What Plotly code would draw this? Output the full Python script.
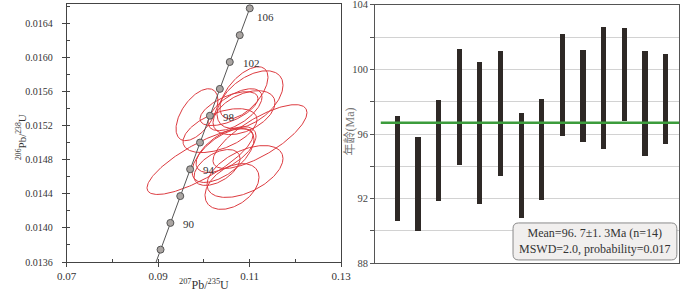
import plotly.graph_objects as go
import numpy as np

# ---------------- Data ----------------
# Concordia reference points (age in Ma, 207Pb/235U, 206Pb/238U)
conc_age = [86, 88, 90, 92, 94, 96, 98, 100, 102, 104, 106]
conc_x = [0.08839, 0.09053, 0.09268, 0.09484, 0.09700, 0.09916, 0.10133, 0.10350, 0.10567, 0.10785, 0.11004]
conc_y = [0.013430, 0.013745, 0.014059, 0.014374, 0.014689, 0.015003, 0.015318, 0.015633, 0.015949, 0.016264, 0.016579]
label_ages = [90, 94, 98, 102, 106]

# Analyses: 207Pb/235U, half width, 206Pb/238U, half height, error correlation
ell_x = [0.09850, 0.10353, 0.10878, 0.11010, 0.10681, 0.10878, 0.11228, 0.10550,
         0.09916, 0.10419, 0.10616, 0.10900, 0.10288, 0.10485]
ell_sx = [0.00459, 0.00809, 0.00525, 0.00722, 0.00591, 0.00678, 0.01028, 0.00634,
          0.01159, 0.00678, 0.00591, 0.00831, 0.00503, 0.00656]
ell_y = [0.015330, 0.015143, 0.015588, 0.015506, 0.015389, 0.015354, 0.015073, 0.015401,
         0.014780, 0.014850, 0.014487, 0.014663, 0.014710, 0.014920]
ell_sy = [0.000305, 0.000258, 0.000305, 0.000340, 0.000246, 0.000258, 0.000375, 0.000199,
          0.000387, 0.000316, 0.000269, 0.000305, 0.000211, 0.000269]
ell_rho = [0.55, 0.5, 0.6, 0.5, 0.6, 0.45, 0.75, 0.6, 0.8, 0.6, 0.4, 0.5, 0.5, 0.6]

# Weighted-mean plot: age top/bottom of each bar (Ma)
spot = list(range(1, 15))
age_top = [97.13, 95.81, 98.14, 101.26, 100.49, 101.15, 97.34, 98.21, 102.23, 101.22, 102.64, 102.58, 101.13, 100.97]
age_bot = [90.64, 90.02, 91.86, 94.10, 91.67, 93.44, 90.80, 91.96, 95.92, 95.55, 95.11, 96.82, 94.66, 95.38]
mean_age = 96.7
stat_lines = ["Mean=96. 7±1. 3Ma (n=14)", "MSWD=2.0, probability=0.017"]

y1_ticks = [0.0136, 0.0140, 0.0144, 0.0148, 0.0152, 0.0156, 0.0160, 0.0164]
x1_ticks = [0.07, 0.09, 0.11, 0.13]
y2_ticks = [88, 92, 96, 100, 104]

# ---------------- Figure ----------------
SERIF = "Liberation Serif, Times New Roman, serif"
W, H = 700, 292
fig = go.Figure()

t = np.linspace(0, 2 * np.pi, 200)
for cx, sx, cy, sy, r in zip(ell_x, ell_sx, ell_y, ell_sy, ell_rho):
    xs = cx + sx * np.cos(t)
    ys = cy + sy * (r * np.cos(t) + np.sqrt(1 - r * r) * np.sin(t))
    fig.add_trace(go.Scatter(x=xs, y=ys, mode="lines", line=dict(color="#dc3a3f", width=1),
                             hoverinfo="skip", showlegend=False, xaxis="x", yaxis="y"))

fig.add_trace(go.Scatter(x=conc_x, y=conc_y, mode="lines", line=dict(color="#555555", width=1),
                         showlegend=False, xaxis="x", yaxis="y"))
fig.add_trace(go.Scatter(x=conc_x[1:], y=conc_y[1:], mode="markers",
                         marker=dict(size=7, color="#aaa5a2", line=dict(color="#555555", width=1)),
                         showlegend=False, xaxis="x", yaxis="y", cliponaxis=False))

annotations = []
for a in label_ages:
    i = conc_age.index(a)
    top = (a == max(label_ages))
    annotations.append(dict(x=conc_x[i], y=conc_y[i], xref="x", yref="y", text=str(a),
                            showarrow=False, xanchor="left", yanchor="middle",
                            xshift=5 if top else 11, yshift=-9 if top else -1,
                            font=dict(family=SERIF, size=11, color="#333333")))

# Right panel bars
fig.add_trace(go.Bar(x=spot, y=[t_ - b for t_, b in zip(age_top, age_bot)], base=age_bot,
                     width=0.25, marker=dict(color="#2e2926", line=dict(width=0)),
                     showlegend=False, xaxis="x2", yaxis="y2"))
fig.add_trace(go.Scatter(x=[0.2, 14.65], y=[mean_age, mean_age], mode="lines",
                         line=dict(color="#3c9c3c", width=2.6), showlegend=False,
                         xaxis="x2", yaxis="y2"))

# Rounded statistics box
x0, x1, y0, y1 = 0.454, 0.993, 0.013, 0.156
rx, ry = 0.018, 0.022
path = (f"M {x0+rx},{y0} L {x1-rx},{y0} Q {x1},{y0} {x1},{y0+ry} L {x1},{y1-ry} "
        f"Q {x1},{y1} {x1-rx},{y1} L {x0+rx},{y1} Q {x0},{y1} {x0},{y1-ry} "
        f"L {x0},{y0+ry} Q {x0},{y0} {x0+rx},{y0} Z")
shapes = [dict(type="path", path=path, xref="x2 domain", yref="y2 domain",
               fillcolor="#f1efee", line=dict(color="#8a8a8a", width=1), layer="above")]
annotations.append(dict(x=(x0 + x1) / 2, y=(y0 + y1) / 2, xref="x2 domain", yref="y2 domain",
                        text="<br>".join(stat_lines), showarrow=False,
                        xanchor="center", yanchor="middle", align="center",
                        font=dict(family=SERIF, size=12, color="#333333")))

# Axis titles (placed as text next to their axes)
annotations.append(dict(x=21 / W, y=1 - 137 / H, xref="paper", yref="paper",
                        text="<sup>206</sup>Pb/<sup>238</sup>U", textangle=-90, showarrow=False,
                        xanchor="center", yanchor="middle",
                        font=dict(family=SERIF, size=11, color="#333333")))
annotations.append(dict(x=349.5 / W, y=1 - 132 / H, xref="paper", yref="paper",
                        text="年龄(Ma)", textangle=-90, showarrow=False,
                        xanchor="center", yanchor="middle",
                        font=dict(family="Liberation Serif, Noto Sans CJK SC", size=12,
                                  color="#777777")))

fig.update_layout(
    width=W, height=H, margin=dict(l=0, r=0, t=0, b=0),
    paper_bgcolor="white", plot_bgcolor="white", bargap=0,
    xaxis=dict(domain=[66.7 / W, 341 / W], range=[0.07, 0.13], tickvals=x1_ticks,
               ticktext=[f"{v:.2f}" for v in x1_ticks], ticks="outside", ticklen=4,
               tickcolor="#444", showline=True, linecolor="#444", mirror=True,
               showgrid=False, zeroline=False, automargin=False, ticklabeloverflow="allow",
               tickfont=dict(family=SERIF, size=11, color="#333333"),
               minor=dict(dtick=0.01, tick0=0.07, ticks="inside", ticklen=3, tickcolor="#444"),
               title=dict(text="<sup>207</sup>Pb/<sup>235</sup>U", standoff=12,
                          font=dict(family=SERIF, size=12, color="#333333"))),
    yaxis=dict(domain=[1 - 262 / H, 1 - 4 / H], range=[0.0136, 0.01663], tickvals=y1_ticks,
               ticktext=[f"{v:.4f}" for v in y1_ticks], ticks="outside", ticklen=4,
               tickcolor="#444", showline=True, linecolor="#444", mirror=True,
               showgrid=False, zeroline=False, automargin=False, ticklabelstandoff=7,
               ticklabeloverflow="allow",
               tickfont=dict(family=SERIF, size=10, color="#333333"),
               minor=dict(dtick=0.0002, tick0=0.0136, ticks="inside", ticklen=3, tickcolor="#444")),
    xaxis2=dict(domain=[375 / W, 679 / W], range=[-0.08, 14.65], showticklabels=False,
                ticks="", showline=True, linecolor="#555", mirror=True, showgrid=False,
                zeroline=False, automargin=False, anchor="y2"),
    yaxis2=dict(domain=[1 - 263.3 / H, 1 - 4.7 / H], range=[88, 104], tickvals=y2_ticks,
                ticks="outside", ticklen=4, tickcolor="#555", showline=True, linecolor="#555",
                mirror=True, showgrid=True, gridcolor="#d2d2d2", gridwidth=1, zeroline=False,
                ticklabeloverflow="allow",
                minor=dict(dtick=2, tick0=88, ticks="outside", ticklen=4, tickcolor="#555",
                           showgrid=True, gridcolor="#d2d2d2", gridwidth=1),
                tickfont=dict(family=SERIF, size=10.5, color="#444444"), automargin=False,
                anchor="x2"),
    shapes=shapes, annotations=annotations,
)

fig.write_html("out.html", config={"displayModeBar": False},
               post_script="document.body.style.margin='0';")
